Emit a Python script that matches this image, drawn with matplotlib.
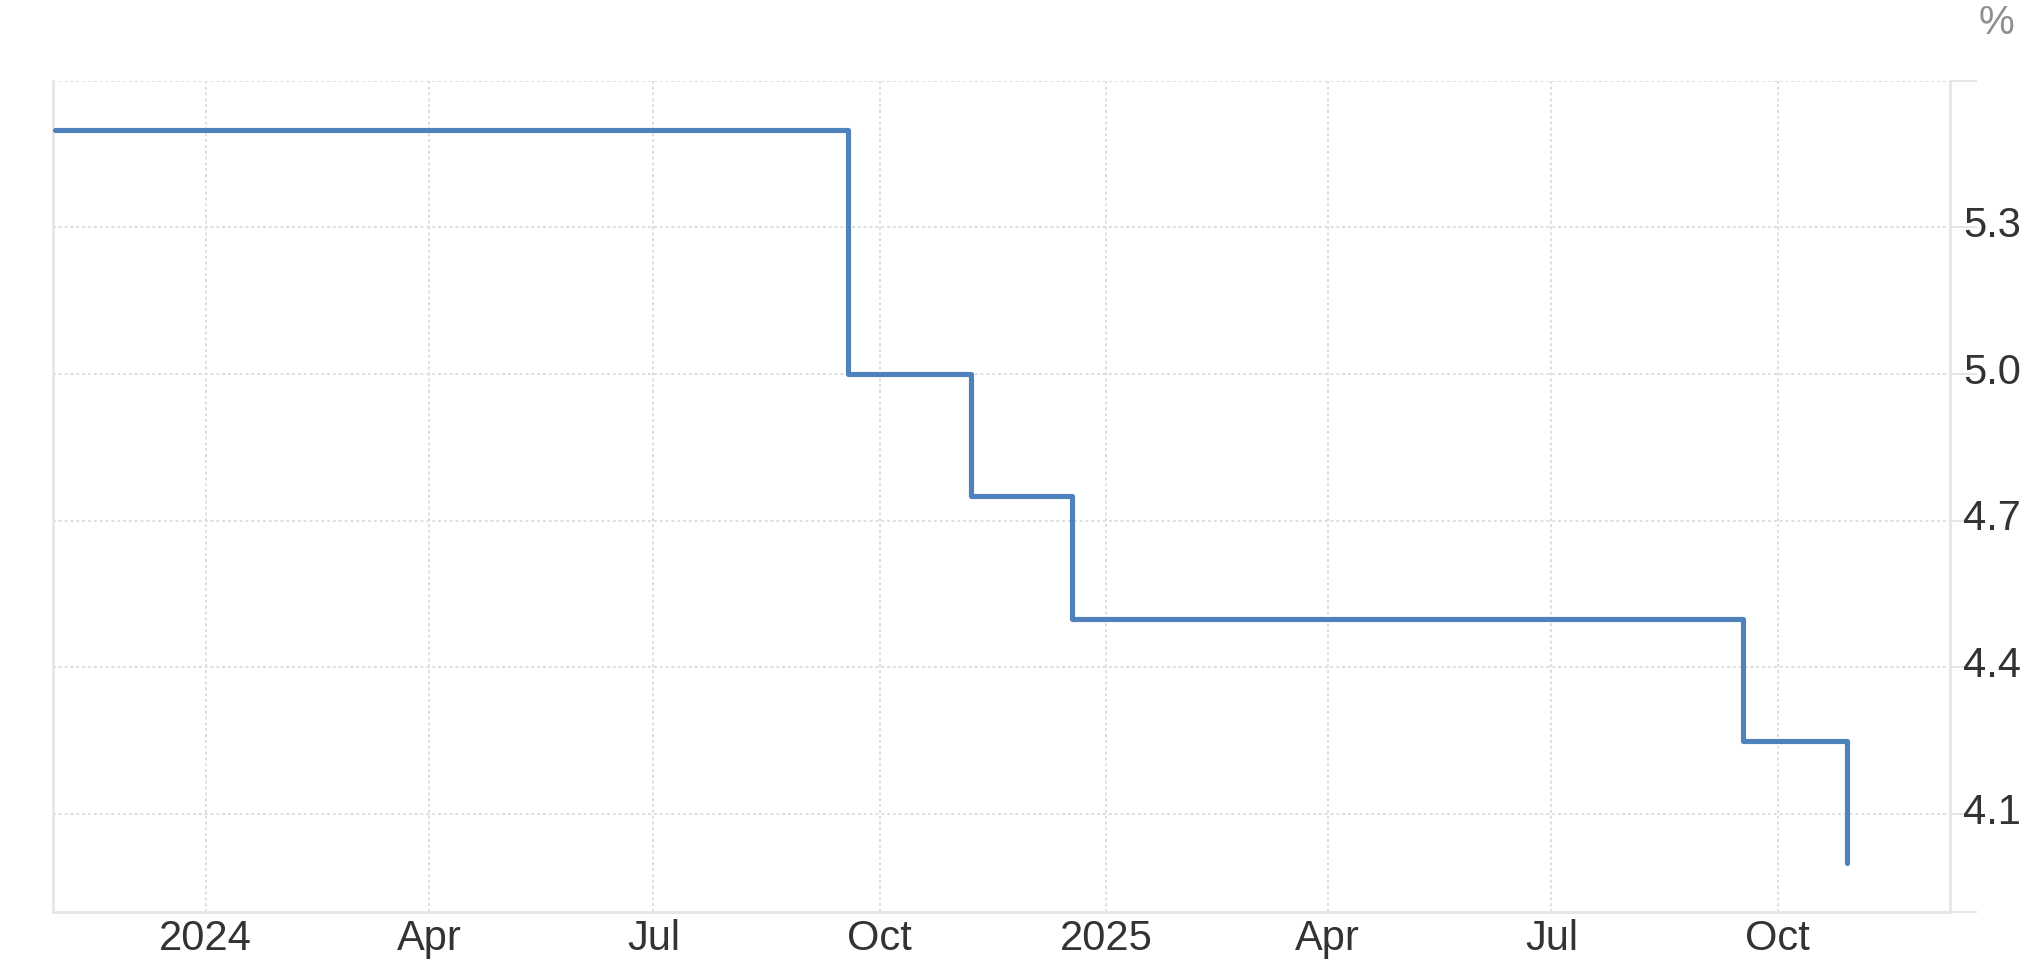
import matplotlib
matplotlib.use("Agg")
import matplotlib.pyplot as plt
import matplotlib.transforms as mtransforms
from datetime import datetime

# Data
change_dates = ["2023-11-01", "2024-09-18", "2024-11-07", "2024-12-18", "2025-09-17", "2025-10-29"]
rates = [5.5, 5.0, 4.75, 4.5, 4.25, 4.0]

xtick_dates = ["2024-01-01", "2024-04-01", "2024-07-01", "2024-10-01",
               "2025-01-01", "2025-04-01", "2025-07-01", "2025-10-01"]
xtick_labels = ["2024", "Apr", "Jul", "Oct", "2025", "Apr", "Jul", "Oct"]

ytick_values = [3.9, 4.1, 4.4, 4.7, 5.0, 5.3, 5.6]
ytick_labels = ["", "4.1", "4.4", "4.7", "5.0", "5.3", ""]

plt.rcParams['font.family'] = ['Liberation Sans', 'DejaVu Sans']

W, H, DPI = 2036, 976, 100
fig = plt.figure(figsize=(W / DPI, H / DPI), dpi=DPI)
ax = fig.add_axes([53 / W, 64 / H, (1950 - 53) / W, (912 - 80.7) / H])

x = [datetime.strptime(d, "%Y-%m-%d") for d in change_dates]
ax.plot(x, rates, drawstyle="steps-post", color="#4f81bd", linewidth=3.7,
        solid_capstyle="round", solid_joinstyle="round", zorder=3)

ax.set_xlim(datetime(2023, 10, 31), datetime(2025, 12, 10))
ax.set_ylim(3.9, 5.6)

xt = [datetime.strptime(d, "%Y-%m-%d") for d in xtick_dates]
ax.set_xticks(xt)
ax.set_xticklabels(xtick_labels)
ax.set_yticks(ytick_values)
ax.set_yticklabels(ytick_labels)

ax.yaxis.tick_right()
ax.tick_params(axis="y", which="both", length=19.4, width=1.4, color="#e6e6e6",
               pad=-10.0, labelsize=30, labelcolor="#333333", left=False, right=True)
ax.tick_params(axis="x", which="both", length=0, pad=5, labelsize=30,
               labelcolor="#333333")

for lbl in ax.get_yticklabels():
    lbl.set_transform(lbl.get_transform() + mtransforms.ScaledTranslation(0, 0.06, fig.dpi_scale_trans))
    lbl.set_horizontalalignment("left")

ax.grid(True, which="major", axis="both", color="#dedede", linewidth=1.4,
        linestyle=(0, (1.5, 1.5)), zorder=0)

ax.spines["top"].set_visible(False)
for side in ["left", "right"]:
    ax.spines[side].set_color("#e6e6e6")
    ax.spines[side].set_linewidth(2.0)
ax.spines["bottom"].set_color("#e6e6e6")
ax.spines["bottom"].set_linewidth(2.2)

fig.text(1996 / W, 1 - 23 / H, "%", ha="center", va="center", fontsize=29, color="#8f8f8f")

fig.savefig("out.png", dpi=DPI, facecolor="white")
